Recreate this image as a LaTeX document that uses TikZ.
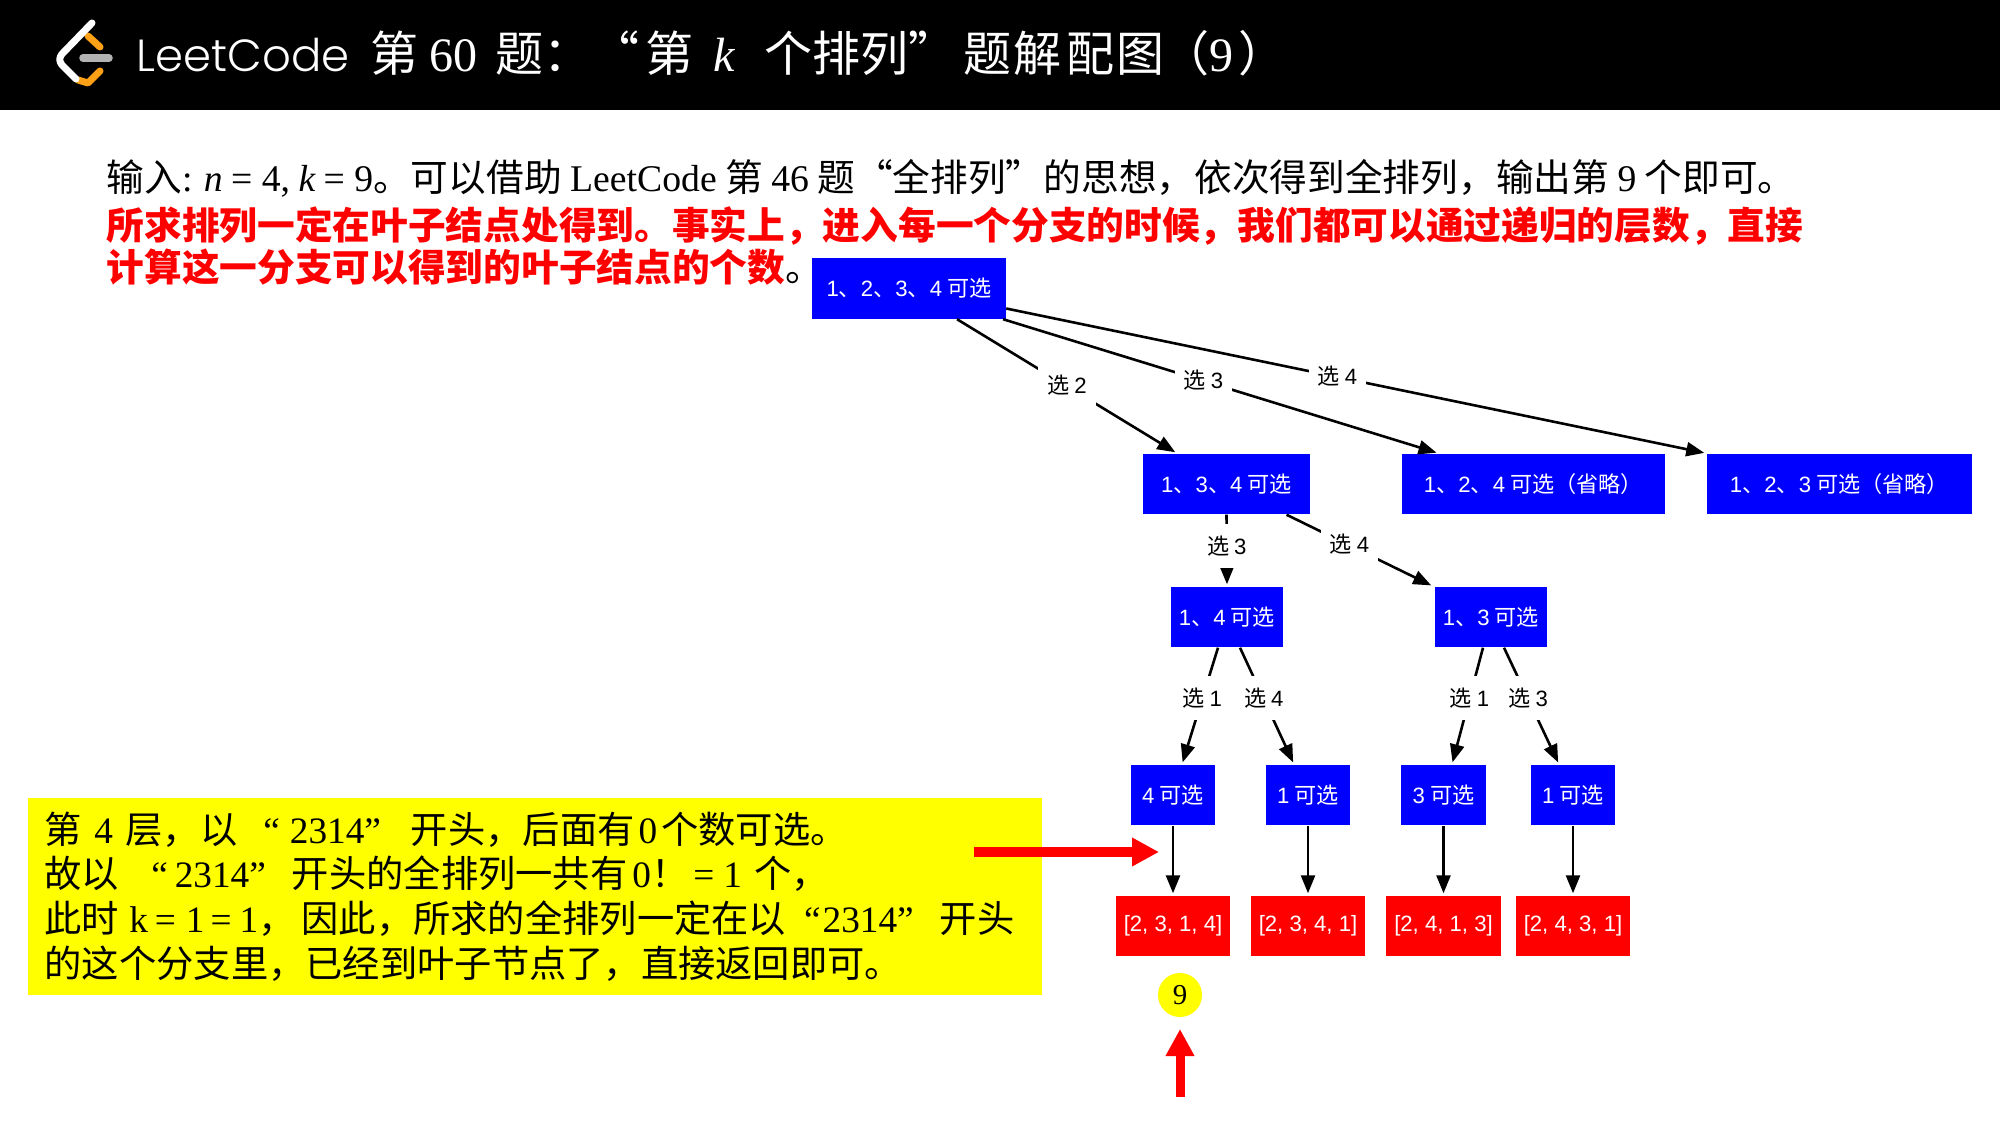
\documentclass[tikz,border=0pt]{standalone}
\usepackage{fontspec}
\setmainfont{Noto Sans CJK SC}
\newfontfamily\serfont{Liberation Serif}
\newfontfamily\arlfont{Liberation Sans}
\newfontfamily\logofont{Poppins Light}
\newcommand{\ser}[1]{{\serfont #1}}
\newcommand{\serit}[1]{{\serfont\itshape #1}}
\newcommand{\arl}[1]{{\arlfont #1}}
\newcommand{\qnum}[1]{{\serfont “\hspace{#1}2314”}}
\usetikzlibrary{arrows.meta}
\definecolor{logoorange}{RGB}{255,161,22}
\definecolor{logogrey}{RGB}{178,178,178}
\definecolor{noteyellow}{RGB}{255,255,0}
\tikzset{
  bluebox/.style={fill=blue,text=white,inner sep=0pt,minimum height=.6cm,font=\fontsize{6.3}{8}\selectfont},
  redbox/.style={fill=red,text=white,inner sep=0pt,minimum width=1.14cm,minimum height=.6cm,font=\fontsize{6.3}{8}\selectfont},
  choice/.style={fill=white,text=black,inner sep=0pt,minimum width=.57cm,minimum height=.44cm,yshift=.012cm,font=\fontsize{6.3}{8}\selectfont},
  link/.style={draw=black,line width=.026cm,shorten >=.02cm,-{Triangle[length=.18cm,width=.14cm]}},
  redarrow/.style={draw=red,line width=.09cm,-{Triangle[length=.27cm,width=.27cm]}},
  textline/.style={anchor=base west,inner sep=0pt,font=\fontsize{10.72}{12}\selectfont},
  titleline/.style={anchor=base west,inner sep=0pt,text=white,font=\fontsize{13.66}{16}\selectfont}
}
\begin{document}
\begin{tikzpicture}[x=.01cm,y=-.01cm]
\useasboundingbox (0,0) rectangle (2000,1125);
\fill[black] (0,0) rectangle (2000,110);

% logo
\draw[logoorange,line width=.07cm,line cap=round,line join=round] (88,36) -- (100,47) (100,71) -- (88,83) -- (78,80);
\draw[white,line width=.07cm,line cap=round,line join=round] (92,23) -- (62,54) .. controls (59,58) and (59,61) .. (62,65) -- (76,79);
\draw[logogrey,line width=.075cm,line cap=round] (83,58) -- (109,58);

\draw (136,72) node[titleline,font=\logofont\fontsize{12.8}{16}\selectfont](brand){LeetCode}
      (370,72) node[titleline](headline){第 \ser{60}\hspace{.07cm} 题：“\hspace{.06cm}第\hspace{.2cm}\serit{k}\hspace{.3cm}个排列”\hspace{.07cm}题\hspace{.02cm}解\hspace{.04cm}配\hspace{.02cm}图\hspace{-.03cm}（\ser{9}\hspace{.05cm}）};

\draw (106,192) node[textline](intro){输入\ser{:} \serit{n} \ser{= 4,} \serit{k} \ser{= 9}。可以借助 \ser{LeetCode} 第 \ser{46} 题“全排列”的思想，依次得到全排列，输出第 \ser{9} 个即可。}
      (106,239.5) node[textline,text=red,font=\fontsize{10.72}{12}\selectfont\bfseries](hinta){所求排列一定在叶子结点处得到。事实上，进入每一个分支的时候，我们都可以通过递归的层数，直接}
      (106,281.5) node[textline](hintb){\textcolor{red}{\bfseries 计算这一分支可以得到的叶子结点的个数}。};

\draw (535,896.5) node[fill=noteyellow,text=black,inner xsep=.17cm,inner ysep=0pt,minimum height=1.97cm,text width=9.8cm,align=left,font=\fontsize{10.6}{12.7}\selectfont](note){第 \ser{4} 层，以\hspace{.26cm}\qnum{.1cm}\hspace{.3cm}开头，后面有\hspace{.04cm}\ser{0}\hspace{.04cm}个数可选。\\
故以\hspace{.32cm}\qnum{.07cm}\hspace{.26cm}开头的全排列一共有\hspace{.05cm}\ser{0}！\hspace{.05cm}\ser{=}\hspace{.09cm}\ser{1}\hspace{.12cm}个，\\
此时\hspace{.1cm}\ser{k}\hspace{.07cm}\ser{=}\hspace{.1cm}\ser{1}\hspace{.06cm}\ser{=}\hspace{.08cm}\ser{1}，\hspace{.06cm}因此，所求的全排列一定在以\hspace{.18cm}\qnum{.02cm}\hspace{.26cm}开头\\
的这个分支里，已经到叶子节点了，直接返回即可。};

\draw (909,288.5) node[bluebox,minimum width=1.93cm](root){\arl{1}、\arl{2}、\arl{3}、\arl{4} 可选}
      (1226.5,484) node[bluebox,minimum width=1.67cm](a1){\arl{1}、\arl{3}、\arl{4} 可选}
      (1533.5,484) node[bluebox,minimum width=2.63cm](a2){\arl{1}、\arl{2}、\arl{4} 可选（省略）}
      (1839.5,484) node[bluebox,minimum width=2.65cm](a3){\arl{1}、\arl{2}、\arl{3} 可选（省略）};
\draw (1227,617) node[bluebox,minimum width=1.12cm](b1){\arl{1}、\arl{4} 可选}
      (1491,617) node[bluebox,minimum width=1.12cm](b2){\arl{1}、\arl{3} 可选};
\draw (1173,795) node[bluebox,minimum width=.84cm](c1){\arl{4} 可选}
      (1308,795) node[bluebox,minimum width=.84cm](c2){\arl{1} 可选}
      (1443.5,795) node[bluebox,minimum width=.84cm](c3){\arl{3} 可选}
      (1573,795) node[bluebox,minimum width=.84cm](c4){\arl{1} 可选};
\draw (1173,926) node[redbox](d1){\arl{[2, 3, 1, 4]}}
      (1308,926) node[redbox](d2){\arl{[2, 3, 4, 1]}}
      (1443.5,926) node[redbox](d3){\arl{[2, 4, 1, 3]}}
      (1573,926) node[redbox](d4){\arl{[2, 4, 3, 1]}};
\draw (1180,995) node[circle,fill=noteyellow,inner sep=0pt,minimum size=.44cm,font=\serfont\fontsize{8.2}{10}\selectfont](order){9};

\path
    ([xshift=.48cm]root.south) edge[link] node[choice,pos=.5] {选 \arl{2}} ([xshift=-.495cm]a1.north)
    ([xshift=.94cm]root.south) edge[link] node[choice,pos=.46] {选 \arl{3}} ([xshift=-.95cm]a2.north)
    ([yshift=-.2cm]root.east) edge[link] node[choice,pos=.473] {选 \arl{4}} (a3.north west);
\path
    (a1.south) edge[link] node[choice,pos=.46] {选 \arl{3}} (b1.north)
    ([xshift=.6cm]a1.south) edge[link] node[choice,pos=.43] {选 \arl{4}} ([xshift=-.58cm]b2.north);
\path
    ([xshift=-.09cm]b1.south) edge[link] node[choice,pos=.44] {选 \arl{1}} ([xshift=.09cm]c1.north)
    ([xshift=.13cm]b1.south) edge[link] node[choice,pos=.44] {选 \arl{4}} ([xshift=-.14cm]c2.north)
    ([xshift=-.08cm]b2.south) edge[link] node[choice,pos=.44] {选 \arl{1}} ([xshift=.085cm]c3.north)
    ([xshift=.13cm]b2.south) edge[link] node[choice,pos=.44] {选 \arl{3}} ([xshift=-.14cm]c4.north);
\path
    (c1.south) edge[link] (d1.north)
    (c2.south) edge[link] (d2.north)
    (c3.south) edge[link] (d3.north)
    (c4.south) edge[link] (d4.north);

\coordinate (notefrom) at (973.5,852);
\coordinate (noteto) at (1159,852);
\coordinate (orderfrom) at (1180,1097);
\coordinate (orderto) at (1180,1029);
\draw[redarrow] (notefrom) -- (noteto);
\draw[redarrow] (orderfrom) -- (orderto);
\end{tikzpicture}
\end{document}
